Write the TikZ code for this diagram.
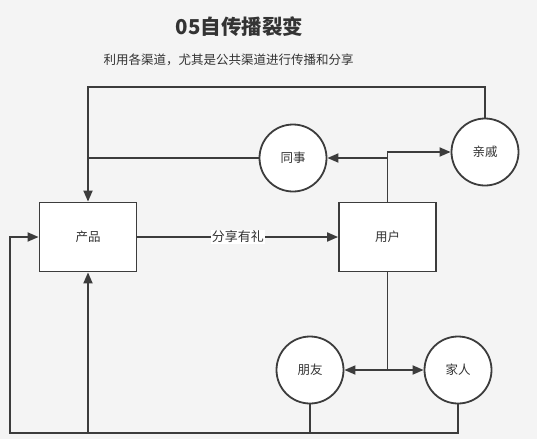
\documentclass[tikz,border=0pt]{standalone}
\usepackage{fontspec}
\setmainfont{Noto Sans CJK SC}
\usetikzlibrary{arrows.meta}
\definecolor{bg}{HTML}{F4F4F4}
\definecolor{ln}{HTML}{3C3C3C}
\definecolor{tx}{HTML}{333333}
\begin{document}
\begin{tikzpicture}[x=1pt,y=-1pt,
  line width=1.8pt,
  arr/.style={draw=ln,-{Triangle[length=11pt,width=9pt]}},
  plain/.style={draw=ln},
  boxnode/.style={draw=ln,fill=white,minimum width=97pt,minimum height=69pt,inner sep=0pt,font=\fontsize{12.5}{15}\selectfont,text=tx},
  circnode/.style={draw=ln,fill=white,circle,minimum size=67pt,inner sep=0pt,font=\fontsize{12.5}{15}\selectfont,text=tx}]
\fill[bg] (0,0) rectangle (537,439);
\useasboundingbox (0,0) rectangle (537,439);
\node[font=\bfseries\fontsize{20.5}{24}\selectfont,text=tx] (title) at (239.5,27) {05自传播裂变};
\node[font=\fontsize{12.5}{15}\selectfont,text=tx] (sub) at (228.5,60) {利用各渠道，尤其是公共渠道进行传播和分享};
\node[boxnode] (product) at (88,237) {产品};
\node[boxnode] (user) at (387.5,237) {用户};
\node[circnode] (colleague) at (293,158) {同事};
\node[circnode] (relative) at (485,152) {亲戚};
\node[circnode] (friend) at (310,370) {朋友};
\node[circnode] (family) at (458,370) {家人};
\draw[arr] (product) -- node[fill=white,inner sep=1pt,font=\fontsize{13}{15}\selectfont,text=tx] {分享有礼} (user);
\draw[arr] (user.north) |- (relative.west);
\draw[arr] (user.north |- colleague.east) -- (colleague.east);
\draw[arr] (relative.north) -- (relative.north |- 0,87) -| (product.north);
\draw[plain] (colleague.west) -- (product.north |- colleague.west);
\draw[plain] (user.south) -- (user.south |- friend.east);
\draw[arr] (user.south |- friend.east) -- (friend.east);
\draw[arr] (user.south |- family.west) -- (family.west);
\draw[arr] (friend.south) -- (friend.south |- 0,433) -| (product.south);
\draw[arr] (family.south) -- (family.south |- 0,433) -- (10,433) |- (product.west);
\end{tikzpicture}
\end{document}
